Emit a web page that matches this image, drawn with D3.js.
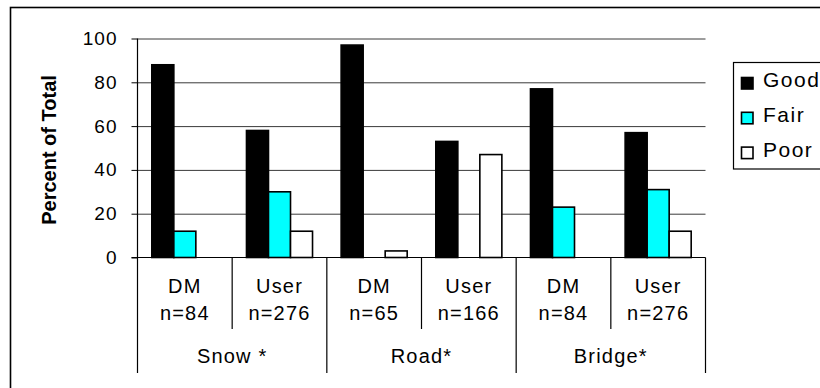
<!DOCTYPE html>
<html>
<head>
<meta charset="utf-8">
<script src="https://cdn.jsdelivr.net/npm/d3@7"></script>
<style>
  html, body { margin: 0; padding: 0; background: #fff; }
  svg { display: block; }
  text { font-family: "Liberation Sans", Arial, Helvetica, sans-serif; fill: #000; }
</style>
</head>
<body>
<svg id="chart" width="820" height="388"></svg>
<script>
// Survey ratings by respondent group
const mainCategories = ["Snow *", "Road*", "Bridge*"];
const respondents = ["DM", "User", "DM", "User", "DM", "User"];
const sampleSizes = ["n=84", "n=276", "n=65", "n=166", "n=84", "n=276"];
const seriesNames = ["Good", "Fair", "Poor"];
const seriesColors = ["#000000", "#00ffff", "#ffffff"];
const good = [88, 58, 97, 53, 77, 57];
const fair = [12, 30, 0, 0, 23, 31];
const poor = [0, 12, 3, 47, 0, 12];
const yTicks = [0, 20, 40, 60, 80, 100];
const yTitle = "Percent of Total";

const seriesValues = [good, fair, poor];
const groupIds = respondents.map((r, i) => i);

const svg = d3.select("#chart");
const plotLeft = 137.5, plotRight = 705.5, plotTop = 38.5, plotBottom = 257.5;
const tableBottom = 373;

// outer chart frame
svg.append("rect")
  .attr("x", 10.5).attr("y", 7.5)
  .attr("width", 1000).attr("height", 1000)
  .attr("fill", "none").attr("stroke", "#000").attr("stroke-width", 1.6);

const x = d3.scaleBand().domain(groupIds).range([plotLeft, plotRight]).padding(0);
const xInner = d3.scaleBand().domain(seriesNames)
  .range([0, x.bandwidth()]).paddingInner(0).paddingOuter(0.65);
const y = d3.scaleLinear().domain([0, 100]).range([plotBottom, plotTop]);

// gridlines
const grid = svg.append("g").attr("transform", `translate(${plotLeft},0)`)
  .call(d3.axisLeft(y).tickValues(yTicks.slice(1)).tickSize(-(plotRight - plotLeft)).tickFormat(""));
grid.select(".domain").remove();
grid.selectAll("line").attr("stroke", "#3a3a3a").attr("stroke-width", 1);

// y axis with ticks and labels
const yAxis = svg.append("g").attr("transform", `translate(${plotLeft},0)`)
  .call(d3.axisLeft(y).tickValues(yTicks).tickSize(6).tickPadding(14));
yAxis.select(".domain").remove();
yAxis.selectAll("line").attr("stroke", "#000");
yAxis.selectAll("text")
  .style("font-family", '"Liberation Sans", Arial, sans-serif')
  .style("font-size", "19px").style("letter-spacing", "1px").attr("fill", "#000");

// bars
const groups = svg.append("g").selectAll("g")
  .data(groupIds).join("g")
  .attr("transform", d => `translate(${x(d)},0)`);

groups.selectAll("rect")
  .data(i => seriesNames.map((s, k) => ({ s, k, v: seriesValues[k][i] })).filter(d => d.v > 0))
  .join("rect")
  .attr("x", d => xInner(d.s))
  .attr("y", d => y(d.v))
  .attr("width", xInner.bandwidth())
  .attr("height", d => y(0) - y(d.v))
  .attr("fill", d => seriesColors[d.k])
  .attr("stroke", "#000").attr("stroke-width", 1.6);

// baseline
svg.append("line")
  .attr("x1", plotLeft - 6).attr("x2", plotRight).attr("y1", plotBottom).attr("y2", plotBottom)
  .attr("stroke", "#000").attr("stroke-width", 1.2);

// value axis line, continued down through the category table
svg.append("line")
  .attr("x1", plotLeft).attr("x2", plotLeft).attr("y1", plotTop).attr("y2", tableBottom)
  .attr("stroke", "#000").attr("stroke-width", 1.2);

// category separators
groupIds.forEach(i => {
  const xr = x(i) + x.bandwidth();
  const major = (i % 2 === 1);
  svg.append("line")
    .attr("x1", xr).attr("x2", xr)
    .attr("y1", plotBottom).attr("y2", major ? tableBottom : 329)
    .attr("stroke", "#000").attr("stroke-width", 1.2);
});

// category labels
const labelFont = g => g.style("font-size", "20px").style("letter-spacing", "1.2px")
  .attr("text-anchor", "middle");
svg.append("g").selectAll("text").data(groupIds).join("text")
  .attr("x", d => x(d) + x.bandwidth() / 2).attr("y", 292.5)
  .text(d => respondents[d]).call(labelFont);
svg.append("g").selectAll("text").data(groupIds).join("text")
  .attr("x", d => x(d) + x.bandwidth() / 2).attr("y", 320)
  .text(d => sampleSizes[d]).call(labelFont);
svg.append("g").selectAll("text").data(mainCategories).join("text")
  .attr("x", (d, j) => x(j * 2) + x.bandwidth())
  .attr("y", 363)
  .text(d => d).call(labelFont);

// y axis title
svg.append("text")
  .attr("transform", "translate(56,150) rotate(-90)")
  .attr("text-anchor", "middle")
  .style("font-size", "20px").style("font-weight", "bold")
  .text(yTitle);

// legend
const legend = svg.append("g");
legend.append("rect")
  .attr("x", 733.5).attr("y", 62.5).attr("width", 200).attr("height", 106.5)
  .attr("fill", "#fff").attr("stroke", "#000").attr("stroke-width", 1.2);
const items = legend.selectAll("g.item").data(seriesNames).join("g")
  .attr("class", "item")
  .attr("transform", (d, k) => `translate(741,${77 + k * 34.8})`);
items.append("rect")
  .attr("x", 0.5).attr("y", 0.5).attr("width", 11.5).attr("height", 11.5)
  .attr("fill", (d, k) => seriesColors[k])
  .attr("stroke", "#000").attr("stroke-width", 1.6);
items.append("text")
  .attr("x", 22).attr("y", 10)
  .style("font-size", "21px").style("letter-spacing", "1.5px")
  .text(d => d);
</script>
</body>
</html>
